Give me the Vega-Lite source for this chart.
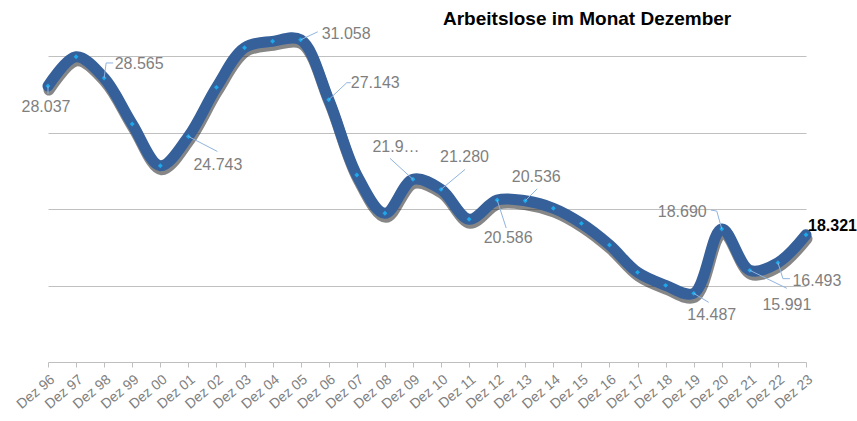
{
  "$schema": "https://vega.github.io/schema/vega-lite/v6.json",
  "width": 758,
  "height": 332,
  "autosize": "none",
  "padding": {"left": 48, "top": 30, "right": 51, "bottom": 59},
  "background": "white",
  "title": {"text": "Arbeitslose im Monat Dezember", "anchor": "start", "frame": "group", "orient": "top", "offset": -28, "dx": 395, "baseline": "alphabetic", "fontSize": 19, "fontWeight": "bold", "color": "#000000", "font": "Liberation Sans"},
  "config": {"view": {"stroke": null}, "font": "Liberation Sans"},
  "data": {"values": [
    {"j": "Dez 96", "v": 28037, "label": "28.037"},
    {"j": "Dez 97", "v": 29950, "label": ""},
    {"j": "Dez 98", "v": 28565, "label": "28.565"},
    {"j": "Dez 99", "v": 25560, "label": ""},
    {"j": "Dez 00", "v": 22830, "label": ""},
    {"j": "Dez 01", "v": 24743, "label": "24.743"},
    {"j": "Dez 02", "v": 27950, "label": ""},
    {"j": "Dez 03", "v": 30540, "label": ""},
    {"j": "Dez 04", "v": 30960, "label": ""},
    {"j": "Dez 05", "v": 31058, "label": "31.058"},
    {"j": "Dez 06", "v": 27143, "label": "27.143"},
    {"j": "Dez 07", "v": 22220, "label": ""},
    {"j": "Dez 08", "v": 19720, "label": ""},
    {"j": "Dez 09", "v": 21940, "label": "21.9…"},
    {"j": "Dez 10", "v": 21280, "label": "21.280"},
    {"j": "Dez 11", "v": 19330, "label": ""},
    {"j": "Dez 12", "v": 20586, "label": "20.586"},
    {"j": "Dez 13", "v": 20536, "label": "20.536"},
    {"j": "Dez 14", "v": 20050, "label": ""},
    {"j": "Dez 15", "v": 19060, "label": ""},
    {"j": "Dez 16", "v": 17650, "label": ""},
    {"j": "Dez 17", "v": 15860, "label": ""},
    {"j": "Dez 18", "v": 15010, "label": ""},
    {"j": "Dez 19", "v": 14487, "label": "14.487"},
    {"j": "Dez 20", "v": 18690, "label": "18.690"},
    {"j": "Dez 21", "v": 15991, "label": "15.991"},
    {"j": "Dez 22", "v": 16493, "label": "16.493"},
    {"j": "Dez 23", "v": 18321, "label": "18.321"}
  ]},
  "encoding": {
    "x": {"field": "j", "type": "ordinal", "sort": null, "scale": {"type": "point", "padding": 0},
      "axis": {"title": null, "labelAngle": -40, "labelAlign": "right", "labelBaseline": "top", "labelFontSize": 14, "labelColor": "#7f7f7f", "labelPadding": 5, "tickSize": 5, "tickColor": "#bfbfbf", "domainColor": "#bfbfbf", "grid": false, "labelOverlap": false}},
    "y": {"field": "v", "type": "quantitative", "scale": {"domain": [10000, 31700], "nice": false, "zero": false},
      "axis": {"title": null, "labels": false, "ticks": false, "domain": false, "values": [15000, 20000, 25000, 30000], "gridColor": "#c0c0c0", "gridWidth": 1}}
  },
  "layer": [
    {"mark": {"type": "line", "interpolate": "catmull-rom", "strokeWidth": 11, "color": "#222222", "opacity": 0.55, "xOffset": 1, "yOffset": 4, "strokeCap": "round"}},
    {"mark": {"type": "line", "interpolate": "catmull-rom", "strokeWidth": 11, "color": "#36609a", "strokeCap": "round"}},
    {"mark": {"type": "point", "shape": "diamond", "filled": true, "size": 24, "color": "#1ea7ea", "opacity": 1}},

    {"transform": [{"filter": "datum.j == 'Dez 96'"}], "mark": {"type": "rule", "color": "#8fb4de", "strokeWidth": 1, "x2Offset": 0, "y2Offset": 8}, "encoding": {"x2": {"field": "j"}, "y2": {"field": "v"}}},
    {"transform": [{"filter": "datum.j == 'Dez 98'"}], "mark": {"type": "rule", "color": "#8fb4de", "strokeWidth": 1, "x2Offset": 2, "y2Offset": -15}, "encoding": {"x2": {"field": "j"}, "y2": {"field": "v"}}},
    {"transform": [{"filter": "datum.j == 'Dez 98'"}], "mark": {"type": "rule", "color": "#8fb4de", "strokeWidth": 1, "xOffset": 2, "yOffset": -15, "x2Offset": 9, "y2Offset": -15}, "encoding": {"x2": {"field": "j"}, "y2": {"field": "v"}}},
    {"transform": [{"filter": "datum.j == 'Dez 01'"}], "mark": {"type": "rule", "color": "#8fb4de", "strokeWidth": 1, "x2Offset": 29, "y2Offset": 15}, "encoding": {"x2": {"field": "j"}, "y2": {"field": "v"}}},
    {"transform": [{"filter": "datum.j == 'Dez 05'"}], "mark": {"type": "rule", "color": "#8fb4de", "strokeWidth": 1, "x2Offset": 17, "y2Offset": -8}, "encoding": {"x2": {"field": "j"}, "y2": {"field": "v"}}},
    {"transform": [{"filter": "datum.j == 'Dez 06'"}], "mark": {"type": "rule", "color": "#8fb4de", "strokeWidth": 1, "x2Offset": 18, "y2Offset": -17}, "encoding": {"x2": {"field": "j"}, "y2": {"field": "v"}}},
    {"transform": [{"filter": "datum.j == 'Dez 06'"}], "mark": {"type": "rule", "color": "#8fb4de", "strokeWidth": 1, "xOffset": 18, "yOffset": -17, "x2Offset": 22, "y2Offset": -17}, "encoding": {"x2": {"field": "j"}, "y2": {"field": "v"}}},
    {"transform": [{"filter": "datum.j == 'Dez 09'"}], "mark": {"type": "rule", "color": "#8fb4de", "strokeWidth": 1, "x2Offset": -23, "y2Offset": -21}, "encoding": {"x2": {"field": "j"}, "y2": {"field": "v"}}},
    {"transform": [{"filter": "datum.j == 'Dez 10'"}], "mark": {"type": "rule", "color": "#8fb4de", "strokeWidth": 1, "x2Offset": 24, "y2Offset": -20}, "encoding": {"x2": {"field": "j"}, "y2": {"field": "v"}}},
    {"transform": [{"filter": "datum.j == 'Dez 12'"}], "mark": {"type": "rule", "color": "#8fb4de", "strokeWidth": 1, "x2Offset": 9, "y2Offset": 28}, "encoding": {"x2": {"field": "j"}, "y2": {"field": "v"}}},
    {"transform": [{"filter": "datum.j == 'Dez 13'"}], "mark": {"type": "rule", "color": "#8fb4de", "strokeWidth": 1, "x2Offset": 12, "y2Offset": -12}, "encoding": {"x2": {"field": "j"}, "y2": {"field": "v"}}},
    {"transform": [{"filter": "datum.j == 'Dez 19'"}], "mark": {"type": "rule", "color": "#8fb4de", "strokeWidth": 1, "x2Offset": 15, "y2Offset": 9}, "encoding": {"x2": {"field": "j"}, "y2": {"field": "v"}}},
    {"transform": [{"filter": "datum.j == 'Dez 20'"}], "mark": {"type": "rule", "color": "#8fb4de", "strokeWidth": 1, "x2Offset": -5, "y2Offset": -18}, "encoding": {"x2": {"field": "j"}, "y2": {"field": "v"}}},
    {"transform": [{"filter": "datum.j == 'Dez 20'"}], "mark": {"type": "rule", "color": "#8fb4de", "strokeWidth": 1, "xOffset": -5, "yOffset": -18, "x2Offset": -11, "y2Offset": -19}, "encoding": {"x2": {"field": "j"}, "y2": {"field": "v"}}},
    {"transform": [{"filter": "datum.j == 'Dez 21'"}], "mark": {"type": "rule", "color": "#8fb4de", "strokeWidth": 1, "x2Offset": 37, "y2Offset": 18}, "encoding": {"x2": {"field": "j"}, "y2": {"field": "v"}}},
    {"transform": [{"filter": "datum.j == 'Dez 22'"}], "mark": {"type": "rule", "color": "#8fb4de", "strokeWidth": 1, "x2Offset": 5, "y2Offset": 16}, "encoding": {"x2": {"field": "j"}, "y2": {"field": "v"}}},
    {"transform": [{"filter": "datum.j == 'Dez 22'"}], "mark": {"type": "rule", "color": "#8fb4de", "strokeWidth": 1, "xOffset": 5, "yOffset": 16, "x2Offset": 12, "y2Offset": 16}, "encoding": {"x2": {"field": "j"}, "y2": {"field": "v"}}},

    {"transform": [{"filter": "datum.j == 'Dez 96'"}], "mark": {"type": "text", "fontSize": 16, "color": "#7f7f7f", "align": "center", "baseline": "middle", "dx": -2, "dy": 21}, "encoding": {"text": {"field": "label"}}},
    {"transform": [{"filter": "datum.j == 'Dez 98'"}], "mark": {"type": "text", "fontSize": 16, "color": "#7f7f7f", "align": "center", "baseline": "middle", "dx": 35, "dy": -14}, "encoding": {"text": {"field": "label"}}},
    {"transform": [{"filter": "datum.j == 'Dez 01'"}], "mark": {"type": "text", "fontSize": 16, "color": "#7f7f7f", "align": "center", "baseline": "middle", "dx": 29.5, "dy": 28.5}, "encoding": {"text": {"field": "label"}}},
    {"transform": [{"filter": "datum.j == 'Dez 05'"}], "mark": {"type": "text", "fontSize": 16, "color": "#7f7f7f", "align": "center", "baseline": "middle", "dx": 45.5, "dy": -6}, "encoding": {"text": {"field": "label"}}},
    {"transform": [{"filter": "datum.j == 'Dez 06'"}], "mark": {"type": "text", "fontSize": 16, "color": "#7f7f7f", "align": "center", "baseline": "middle", "dx": 46.5, "dy": -16.5}, "encoding": {"text": {"field": "label"}}},
    {"transform": [{"filter": "datum.j == 'Dez 09'"}], "mark": {"type": "text", "fontSize": 16, "color": "#7f7f7f", "align": "center", "baseline": "middle", "dx": -17, "dy": -32.5}, "encoding": {"text": {"field": "label"}}},
    {"transform": [{"filter": "datum.j == 'Dez 10'"}], "mark": {"type": "text", "fontSize": 16, "color": "#7f7f7f", "align": "center", "baseline": "middle", "dx": 23.5, "dy": -32.5}, "encoding": {"text": {"field": "label"}}},
    {"transform": [{"filter": "datum.j == 'Dez 12'"}], "mark": {"type": "text", "fontSize": 16, "color": "#7f7f7f", "align": "center", "baseline": "middle", "dx": 11, "dy": 37.5}, "encoding": {"text": {"field": "label"}}},
    {"transform": [{"filter": "datum.j == 'Dez 13'"}], "mark": {"type": "text", "fontSize": 16, "color": "#7f7f7f", "align": "center", "baseline": "middle", "dx": 11, "dy": -24}, "encoding": {"text": {"field": "label"}}},
    {"transform": [{"filter": "datum.j == 'Dez 19'"}], "mark": {"type": "text", "fontSize": 16, "color": "#7f7f7f", "align": "center", "baseline": "middle", "dx": 18, "dy": 22}, "encoding": {"text": {"field": "label"}}},
    {"transform": [{"filter": "datum.j == 'Dez 20'"}], "mark": {"type": "text", "fontSize": 16, "color": "#7f7f7f", "align": "center", "baseline": "middle", "dx": -39.5, "dy": -17.5}, "encoding": {"text": {"field": "label"}}},
    {"transform": [{"filter": "datum.j == 'Dez 21'"}], "mark": {"type": "text", "fontSize": 16, "color": "#7f7f7f", "align": "center", "baseline": "middle", "dx": 37, "dy": 35}, "encoding": {"text": {"field": "label"}}},
    {"transform": [{"filter": "datum.j == 'Dez 22'"}], "mark": {"type": "text", "fontSize": 16, "color": "#7f7f7f", "align": "center", "baseline": "middle", "dx": 39, "dy": 18}, "encoding": {"text": {"field": "label"}}},
    {"transform": [{"filter": "datum.j == 'Dez 23'"}], "mark": {"type": "text", "fontSize": 16, "fontWeight": "bold", "color": "#000000", "align": "left", "baseline": "middle", "dx": 2, "dy": -9}, "encoding": {"text": {"field": "label"}}}
  ]
}
